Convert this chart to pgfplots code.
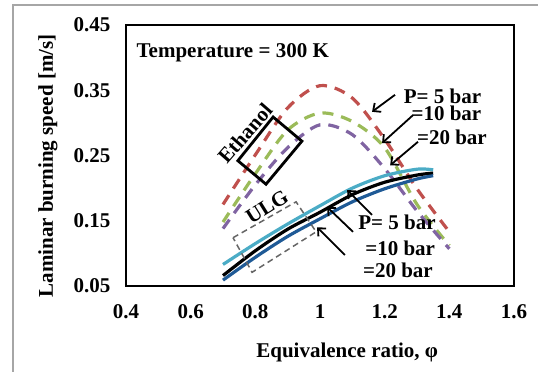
\documentclass[border=0pt]{standalone}
\usepackage{pgfplots}
\pgfplotsset{compat=1.18}
\usepackage{fontspec}
\setmainfont{Liberation Serif}
\usetikzlibrary{arrows.meta}
\definecolor{ered}{HTML}{C0504D}
\definecolor{egreen}{HTML}{9BBB59}
\definecolor{epurple}{HTML}{8064A2}
\definecolor{ucyan}{HTML}{4BACC6}
\definecolor{ublue}{HTML}{1F5A96}
\newcommand{\bigb}{\bfseries\fontsize{21}{25}\selectfont}
\begin{document}
\begin{tikzpicture}[font=\bigb]
\useasboundingbox (0,0) rectangle (538pt,372pt);
\draw[line width=1.3pt, color=black!35] (13pt,0pt) -- (13pt,367pt) -- (538pt,367pt);
\begin{axis}[
  at={(126pt,86pt)}, anchor=south west, scale only axis,
  width=388pt, height=261pt,
  xmin=0.4, xmax=1.6, ymin=0.05, ymax=0.45,
  xtick={0.4,0.6,0.8,1,1.2,1.4,1.6},
  xticklabels={0.4,0.6,0.8,1,1.2,1.4,1.6},
  ytick={0.05,0.15,0.25,0.35,0.45},
  yticklabels={0.05,0.15,0.25,0.35,0.45},
  major tick length=0pt,
  axis line style={line width=1.5pt},
  /pgf/number format/assume math mode=true,
  tick label style={font=\bigb},
  xticklabel style={anchor=center, yshift=-26pt},
  yticklabel style={anchor=east, xshift=-12pt},
  label style={font=\bigb},
  xlabel={Equivalence ratio, φ},
  xlabel style={at={(rel axis cs:0.57,-0.253)}, anchor=center},
  ylabel={Laminar burning speed [m/s]},
  ylabel style={at={(rel axis cs:-0.201,0.46)}, anchor=center},
  clip=false,
]
% Ethanol (dashed)
\addplot[color=ered, line width=3.2pt, dash pattern=on 11pt off 8pt, smooth] coordinates {
 (0.7,0.175)(0.8,0.251)(0.9,0.323)(1.0,0.357)(1.1,0.338)(1.2,0.275)(1.3,0.199)(1.4,0.133)};
\addplot[color=egreen, line width=3.2pt, dash pattern=on 11pt off 8pt, smooth] coordinates {
 (0.7,0.148)(0.8,0.222)(0.9,0.289)(1.0,0.315)(1.1,0.302)(1.2,0.262)(1.3,0.175)(1.4,0.112)};
\addplot[color=epurple, line width=3.2pt, dash pattern=on 11pt off 8pt, smooth] coordinates {
 (0.7,0.138)(0.8,0.205)(0.9,0.262)(1.0,0.297)(1.1,0.282)(1.2,0.230)(1.3,0.165)(1.4,0.107)};
% ULG (solid)
\addplot[color=ucyan, line width=3.2pt, smooth] coordinates {
 (0.7,0.083)(0.8,0.115)(0.9,0.145)(1.0,0.173)(1.1,0.200)(1.2,0.219)(1.3,0.229)(1.35,0.228)};
\addplot[color=black, line width=3.2pt, smooth] coordinates {
 (0.7,0.066)(0.8,0.104)(0.9,0.137)(1.0,0.163)(1.1,0.190)(1.2,0.209)(1.3,0.220)(1.35,0.223)};
\addplot[color=ublue, line width=3.2pt, smooth] coordinates {
 (0.7,0.059)(0.8,0.094)(0.9,0.126)(1.0,0.153)(1.1,0.179)(1.2,0.199)(1.3,0.214)(1.35,0.219)};
% annotations
\node[anchor=west] at (axis cs:0.422,0.407) {Temperature = 300 K};
\draw[line width=2.8pt] (axis cs:0.855,0.309) -- (axis cs:0.944,0.272) -- (axis cs:0.833,0.206) -- (axis cs:0.746,0.242) -- cycle;
\node[rotate=49] at (axis cs:0.768,0.284) {Ethanol};
\draw[line width=1.5pt, color=black!60, dash pattern=on 6pt off 4pt] (axis cs:0.731,0.124) -- (axis cs:0.926,0.179) -- (axis cs:0.988,0.133) -- (axis cs:0.790,0.071) -- cycle;
\node[rotate=32] at (axis cs:0.836,0.171) {ULG};
\draw[-{Straight Barb[length=6pt,width=11pt]}, line width=1.8pt] (axis cs:1.232,0.343) -- (axis cs:1.161,0.317);
\draw[-{Straight Barb[length=6pt,width=11pt]}, line width=1.8pt] (axis cs:1.288,0.312) -- (axis cs:1.192,0.269);
\draw[-{Straight Barb[length=6pt,width=11pt]}, line width=1.8pt] (axis cs:1.303,0.271) -- (axis cs:1.217,0.235);
\node at (axis cs:1.379,0.341) {P= 5 bar};
\node at (axis cs:1.391,0.315) {=10 bar};
\node at (axis cs:1.408,0.278) {=20 bar};
\draw[-{Straight Barb[length=6pt,width=11pt]}, line width=1.8pt] (axis cs:1.161,0.159) -- (axis cs:1.084,0.197);
\draw[-{Straight Barb[length=6pt,width=11pt]}, line width=1.8pt] (axis cs:1.102,0.133) -- (axis cs:1.022,0.171);
\draw[-{Straight Barb[length=6pt,width=11pt]}, line width=1.8pt] (axis cs:1.077,0.0975) -- (axis cs:0.991,0.140);
\node at (axis cs:1.238,0.147) {P= 5 bar};
\node at (axis cs:1.248,0.108) {=10 bar};
\node at (axis cs:1.241,0.0745) {=20 bar};
\end{axis}
\end{tikzpicture}
\end{document}
